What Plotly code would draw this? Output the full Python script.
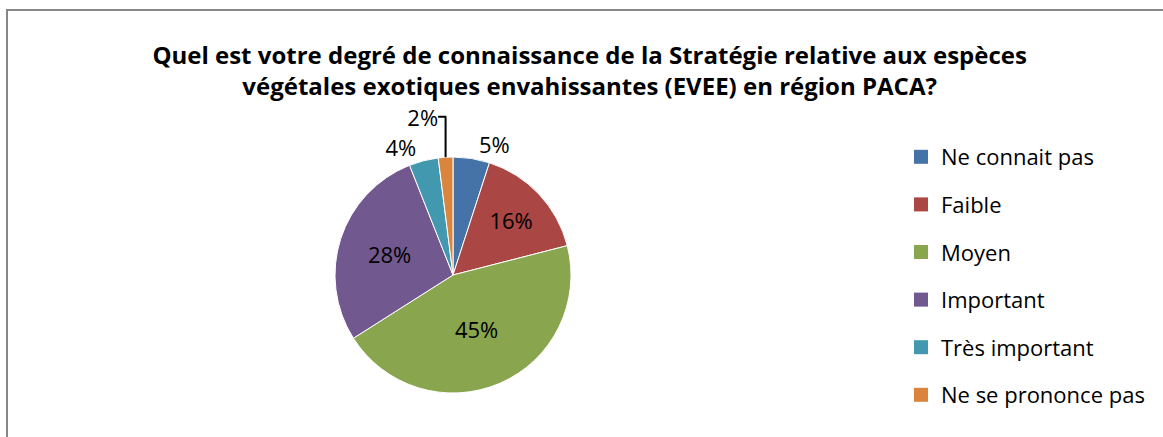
import plotly.graph_objects as go

categories = ["Ne connait pas", "Faible", "Moyen", "Important", "Très important", "Ne se prononce pas"]
values = [5, 16, 45, 28, 4, 2]
colors = ["#4572A7", "#AA4643", "#89A54E", "#71588F", "#4198AF", "#DB843D"]
label_positions = ["outside", "inside", "inside", "inside", "outside", "outside"]
title_text = ("Quel est votre degré de connaissance de la Stratégie relative aux espèces<br>"
              "végétales exotiques envahissantes (EVEE) en région PACA?")

W, H = 1163, 437
FONT = "Open Sans"

cx, cy, r = 453, 275, 118

fig = go.Figure()
fig.add_trace(go.Pie(
    labels=categories, values=values, sort=False, direction="clockwise", rotation=0,
    marker=dict(colors=colors, line=dict(color="white", width=1)),
    texttemplate="%{percent:.0%}", textposition=label_positions,
    insidetextorientation="horizontal",
    textfont=dict(family=FONT, size=22, color="black"),
    outsidetextfont=dict(family=FONT, size=22, color="black"),
    insidetextfont=dict(family=FONT, size=22, color="black"),
    showlegend=False,
    domain=dict(x=[(cx - r) / W, (cx + r) / W], y=[(H - cy - r) / H, (H - cy + r) / H]),
))
for cat, col in zip(categories, colors):
    fig.add_trace(go.Scatter(
        x=[None], y=[None], mode="markers", name=cat, legendgroup=cat,
        marker=dict(symbol="square", size=14, color=col), showlegend=True,
    ))

fig.update_layout(
    width=W, height=H,
    margin=dict(l=0, r=0, t=0, b=0),
    paper_bgcolor="white", plot_bgcolor="white",
    xaxis=dict(visible=False), yaxis=dict(visible=False),
    title=dict(text=title_text, x=0.507, xanchor="center", y=1 - 64 / H, yanchor="top",
               yref="container", font=dict(family=FONT, size=24, color="black", weight="bold")),
    legend=dict(x=901 / W, xanchor="left", y=1 - 136 / H, yanchor="top",
                font=dict(family=FONT, size=22, color="black"),
                tracegroupgap=16, itemwidth=30, bgcolor="rgba(0,0,0,0)"),
    shapes=[dict(type="rect", xref="paper", yref="paper",
                 x0=7 / W, x1=1.05, y0=-0.05, y1=1 - 10 / H,
                 line=dict(color="#878787", width=2), fillcolor="rgba(0,0,0,0)", layer="below")],
)

fig.write_html("out.html", config={"displayModeBar": False},
               post_script="document.body.style.margin='0';")
